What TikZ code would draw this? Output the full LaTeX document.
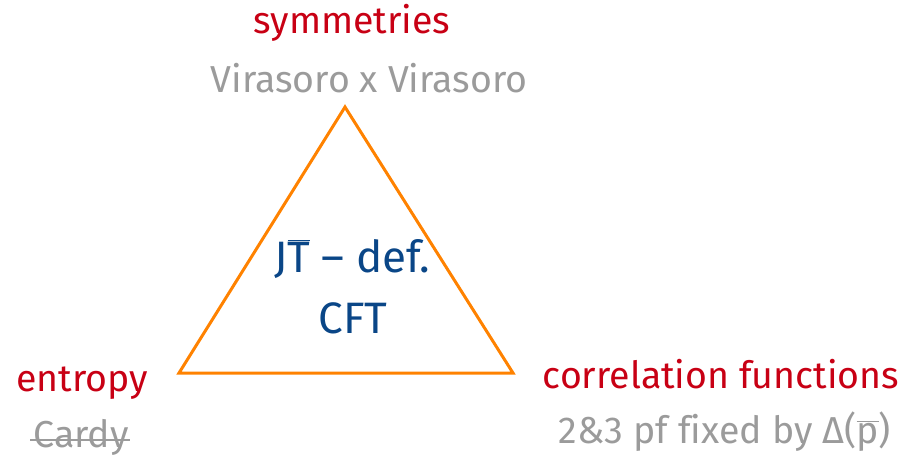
\documentclass[tikz,border=0pt]{standalone}
\usepackage{fontspec}
\setmainfont[Ligatures=NoCommon]{Fira Sans}
\definecolor{cred}{RGB}{200,0,20}
\definecolor{cgray}{RGB}{155,155,155}
\definecolor{cblue}{RGB}{10,70,135}
\definecolor{corange}{RGB}{255,130,0}
\newcommand\myovl[1]{\ensuremath{\overline{\hbox{#1}}}}
\begin{document}
\begin{tikzpicture}[x=1pt,y=-1pt,
  redlbl/.style={text=cred,font=\fontsize{37.5}{44}\selectfont,inner sep=0pt,anchor=base},
  graylbl/.style={text=cgray,font=\fontsize{37.5}{44}\selectfont,inner sep=0pt,anchor=base},
  bluelbl/.style={text=cblue,font=\fontsize{44}{52}\selectfont,inner sep=0pt,anchor=base}]
\useasboundingbox (0,0) rectangle (902,459);
\coordinate (top) at (345,107);
\coordinate (left) at (179,373);
\coordinate (right) at (513,373);
\draw[corange,line width=3pt,line join=miter] (top) -- (right) -- (left) -- cycle;
\node[redlbl] (sym) at (352,33) {symmetries};
\node[graylbl] (vir) at (369,92) {Virasoro x Virasoro};
\node[bluelbl] (jt) at (352,272) {J\myovl{T} – def.};
\node[bluelbl] (cft) at (353,333) {CFT};
\node[redlbl] (ent) at (82,391) {entropy};
\node[graylbl] (cardy) at (81,447) {Cardy};
\draw[cgray,line width=1.8pt] ([xshift=-3pt,yshift=7pt]cardy.base west) -- ([xshift=1pt,yshift=7pt]cardy.base east);
\node[redlbl] (corr) at (721,388) {correlation functions};
\node[graylbl] (pf) at (725,443) {2\&3 pf fixed by Δ(\myovl{p})};
\end{tikzpicture}
\end{document}
